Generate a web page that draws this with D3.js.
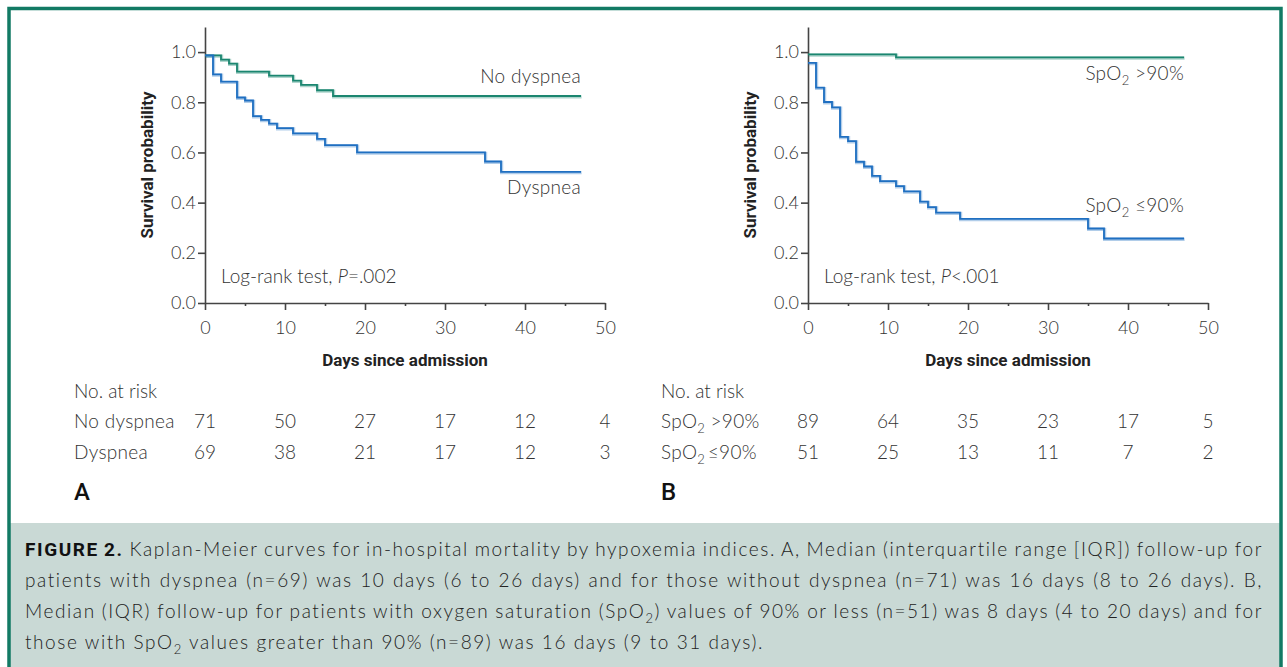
<!DOCTYPE html>
<html>
<head>
<meta charset="utf-8">
<script src="https://cdn.jsdelivr.net/npm/d3@7"></script>
<style>
  body { margin: 0; background: #fff; }
  svg text { font-family: Lato, "Open Sans", sans-serif; }
</style>
</head>
<body>
<svg id="fig" width="1287" height="667"></svg>
<script>
// ---- data ----
const riskDays = [0, 10, 20, 30, 40, 50];

// panel A
const noDysTimes = [0, 2, 3, 4, 8, 11, 12, 14, 16, 47];
const noDysSurv  = [0.987, 0.970, 0.954, 0.922, 0.906, 0.886, 0.869, 0.848, 0.825, 0.825];
const dysTimes = [0, 1, 2, 4, 5, 6, 7, 8, 9, 11, 14, 15, 19, 35, 37, 47];
const dysSurv  = [0.987, 0.911, 0.882, 0.819, 0.807, 0.745, 0.730, 0.715, 0.697, 0.676, 0.654, 0.629, 0.600, 0.564, 0.523, 0.523];
const riskNoDys = [71, 50, 27, 17, 12, 4];
const riskDys   = [69, 38, 21, 17, 12, 3];

// panel B
const hiTimes = [0, 11, 47];
const hiSurv  = [0.991, 0.979, 0.979];
const loTimes = [0, 1, 2, 3, 4, 5, 6, 7, 8, 9, 11, 12, 14, 15, 16, 19, 35, 37, 47];
const loSurv  = [0.957, 0.858, 0.801, 0.780, 0.662, 0.645, 0.563, 0.544, 0.507, 0.486, 0.466, 0.445, 0.404, 0.382, 0.360, 0.335, 0.297, 0.257, 0.257];
const riskHi = [89, 64, 35, 23, 17, 5];
const riskLo = [51, 25, 13, 11, 7, 2];

const yTicks = [0, 0.2, 0.4, 0.6, 0.8, 1.0];
const xTicks = [0, 10, 20, 30, 40, 50];
const xMinor = [5, 15, 25, 35, 45];

const captionLines = [
  [{ t: "FIGURE 2.", b: true }, { t: " Kaplan-Meier curves for in-hospital mortality by hypoxemia indices. A, Median (interquartile range [IQR]) follow-up for" }],
  [{ t: "patients with dyspnea (n=69) was 10 days (6 to 26 days) and for those without dyspnea (n=71) was 16 days (8 to 26 days). B," }],
  [{ t: "Median (IQR) follow-up for patients with oxygen saturation (SpO" }, { t: "2", sub: true }, { t: ") values of 90% or less (n=51) was 8 days (4 to 20 days) and for" }],
  [{ t: "those with SpO" }, { t: "2", sub: true }, { t: " values greater than 90% (n=89) was 16 days (9 to 31 days)." }]
];

const green = "#1b8670", blue = "#1f6fc1";
const axisColor = "#444", textColor = "#333";

const svg = d3.select("#fig");

// frame + caption box
svg.append("rect").attr("x", 0).attr("y", 0).attr("width", 1287).attr("height", 667).attr("fill", "#fff");
svg.append("rect").attr("x", 10).attr("y", 523).attr("width", 1271).attr("height", 150).attr("fill", "#c9d9d5");
svg.append("rect").attr("x", 9).attr("y", 8.5).attr("width", 1272).attr("height", 700)
  .attr("fill", "none").attr("stroke", "#127a64").attr("stroke-width", 3.5);

// writes text parts into a <text>, "2" parts become subscripts
function subText(sel, parts, subSize, shift) {
  let back = 0;
  parts.forEach(p => {
    const ts = sel.append("tspan").text(p.t);
    if (p.sub) {
      ts.attr("dy", shift).style("font-size", subSize + "px");
      back = -shift;
    } else {
      if (back) ts.attr("dy", back);
      back = 0;
      if (p.b) ts.style("font-family", "Roboto, sans-serif").style("font-weight", 700).attr("fill", "#111");
    }
  });
}

function drawPanel(left, curves, labels, pText, risk, letter) {
  const x = d3.scaleLinear().domain([0, 50]).range([left, left + 400]);
  const y = d3.scaleLinear().domain([0, 1.1]).range([303, 27]);
  const g = svg.append("g");

  // x axis
  g.append("g").attr("transform", `translate(0,${y(0)})`)
    .call(d3.axisBottom(x).tickValues(xTicks).tickSize(7).tickSizeOuter(0).tickPadding(11));
  g.append("g").attr("transform", `translate(0,${y(0)})`)
    .call(d3.axisBottom(x).tickValues(xMinor).tickSize(3).tickFormat(""))
    .select(".domain").remove();

  // y axis
  g.append("g").attr("transform", `translate(${x(0)},0)`)
    .call(d3.axisLeft(y).tickValues(yTicks).tickSize(7).tickSizeOuter(0).tickPadding(2).tickFormat(d3.format(".1f")));

  g.selectAll(".domain, .tick line").attr("stroke", axisColor).attr("stroke-width", 1.6);
  g.selectAll(".tick text").attr("fill", textColor).style("font-size", "18px")
    .style("font-family", "Lato, sans-serif").style("font-weight", 300);

  // axis titles
  g.append("text").attr("x", x(25)).attr("y", 366).attr("text-anchor", "middle")
    .style("font-family", "Roboto, sans-serif").style("font-weight", 700).style("font-size", "17px")
    .attr("fill", "#222").text("Days since admission");
  g.append("text").attr("transform", `translate(${x(0) - 52},${y(0.55)}) rotate(-90)`)
    .attr("text-anchor", "middle")
    .style("font-family", "Roboto, sans-serif").style("font-weight", 700).style("font-size", "17px")
    .attr("fill", "#222").text("Survival probability");

  // curves
  const line = d3.line().x(d => x(d[0])).y(d => y(d[1])).curve(d3.curveStepAfter);
  curves.forEach(c => {
    const pts = c.times.map((t, i) => [t, c.surv[i]]);
    g.append("path").datum(pts).attr("d", line).attr("fill", "none")
      .attr("stroke", c.color).attr("stroke-opacity", 0.35).attr("stroke-width", 3.2)
      .attr("transform", "translate(0.6,0.8)");
    g.append("path").datum(pts).attr("d", line).attr("fill", "none")
      .attr("stroke", c.color).attr("stroke-width", 1.8);
  });

  // curve labels
  labels.forEach(l => {
    const t = g.append("text").attr("x", x(47)).attr("y", l.y).attr("text-anchor", "end")
      .attr("fill", textColor).style("font-size", "19px").style("font-weight", 300)
      .attr("letter-spacing", 0.3);
    subText(t, l.parts, 13, 5);
  });

  const pt = g.append("text").attr("x", x(0) + 16).attr("y", 283)
    .attr("fill", textColor).style("font-size", "19px").style("font-weight", 300);
  pt.append("tspan").text("Log-rank test, ");
  pt.append("tspan").style("font-style", "italic").text("P");
  pt.append("tspan").text(pText);

  // number at risk table
  const tx = risk.labelX;
  g.append("text").attr("x", tx).attr("y", 398).attr("fill", textColor)
    .style("font-size", "19px").style("font-weight", 300).text("No. at risk");
  risk.rows.forEach((r, i) => {
    const yy = 428 + i * 30.5;
    const lt = g.append("text").attr("x", tx).attr("y", yy).attr("fill", textColor)
      .style("font-size", "19px").style("font-weight", 300).attr("letter-spacing", 0.3);
    subText(lt, r.parts, 13, 5);
    g.selectAll(null).data(r.values).join("text")
      .attr("x", (d, j) => x(riskDays[j])).attr("y", yy).attr("text-anchor", "middle")
      .attr("fill", textColor).style("font-size", "19px").style("font-weight", 300)
      .text(d => d);
  });

  g.append("text").attr("x", tx).attr("y", 500).attr("fill", "#111")
    .style("font-family", "Roboto, sans-serif").style("font-weight", 500).style("font-size", "24px")
    .text(letter);
}

drawPanel(205,
  [{ times: noDysTimes, surv: noDysSurv, color: green }, { times: dysTimes, surv: dysSurv, color: blue }],
  [{ y: 83, parts: [{ t: "No dyspnea" }] }, { y: 194, parts: [{ t: "Dyspnea" }] }],
  "=.002",
  { labelX: 74, rows: [{ parts: [{ t: "No dyspnea" }], values: riskNoDys }, { parts: [{ t: "Dyspnea" }], values: riskDys }] },
  "A");

drawPanel(808,
  [{ times: hiTimes, surv: hiSurv, color: green }, { times: loTimes, surv: loSurv, color: blue }],
  [{ y: 80, parts: [{ t: "SpO" }, { t: "2", sub: true }, { t: " >90%" }] },
   { y: 212, parts: [{ t: "SpO" }, { t: "2", sub: true }, { t: " \u226490%" }] }],
  "<.001",
  { labelX: 661, rows: [
      { parts: [{ t: "SpO" }, { t: "2", sub: true }, { t: " >90%" }], values: riskHi },
      { parts: [{ t: "SpO" }, { t: "2", sub: true }, { t: "\u2009\u226490%" }], values: riskLo }] },
  "B");

// caption, justified lines
const capLeft = 25, capRight = 1263;
captionLines.forEach((parts, i) => {
  const t = svg.append("text").attr("x", capLeft).attr("y", 556 + i * 31)
    .attr("fill", "#222").style("font-size", "19px").style("font-weight", 300)
    .attr("letter-spacing", 1.58);
  subText(t, parts, 13, 5);
  if (i < captionLines.length - 1) {
    const w = t.node().getBBox().width;
    const spaces = parts.map(p => p.t).join("").split(" ").length - 1;
    t.attr("word-spacing", (capRight - capLeft - w) / spaces);
  }
});
</script>
</body>
</html>
